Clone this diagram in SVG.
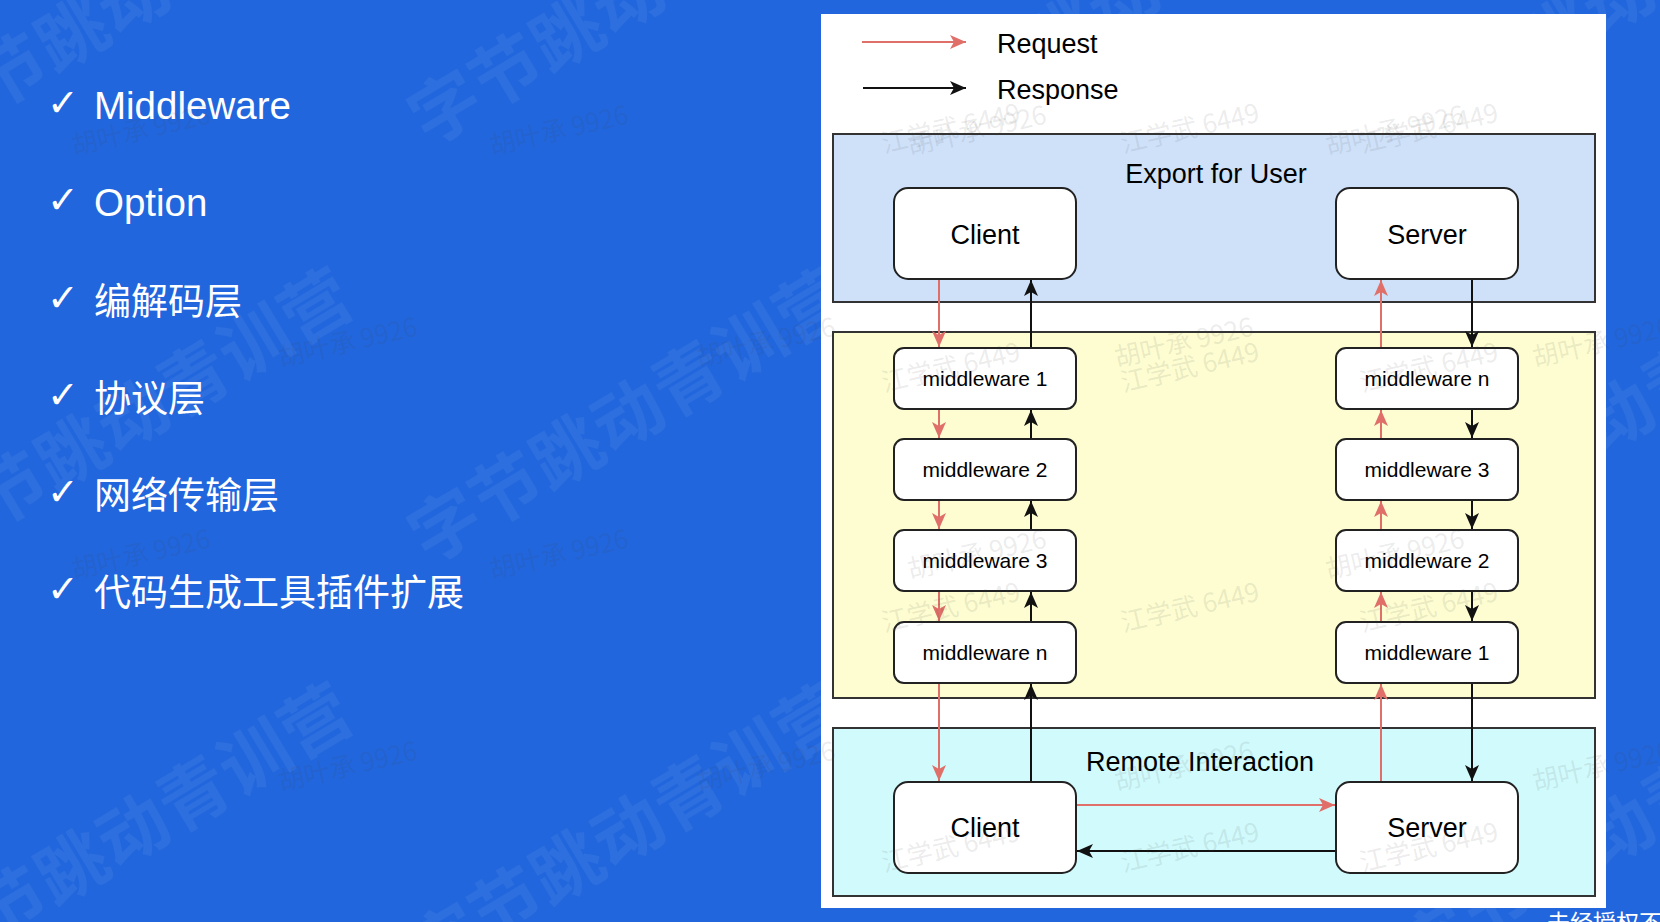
<svg xmlns="http://www.w3.org/2000/svg" width="1660" height="922" viewBox="0 0 1660 922">
<defs>
<style>
.wm{font-family:"Noto Sans CJK SC",sans-serif;font-size:70px;font-weight:700;fill:#ffffff;fill-opacity:0.06;letter-spacing:1px}
.li{fill:#ffffff}
.lat{font-family:"Liberation Sans","Noto Sans CJK SC",sans-serif;font-size:38.5px}
.cjk{font-family:"Noto Sans CJK SC",sans-serif;font-size:37px}
.chk{font-family:"DejaVu Sans",sans-serif;font-size:38px;font-weight:700;fill:#ffffff}
.cont{stroke:#333333;stroke-width:2}
.box{fill:#ffffff;stroke:#222222;stroke-width:2}
.t{font-family:"Liberation Sans",Arial,sans-serif;fill:#000000;text-anchor:middle}
.lg{font-family:"Liberation Sans",Arial,sans-serif;fill:#000000;font-size:27px}
.big{font-size:27px}
.mw{font-size:21px}
.req{fill:none;stroke:#e06f69;stroke-width:2;marker-end:url(#ar)}
.res{fill:none;stroke:#111111;stroke-width:2;marker-end:url(#ab)}
.sw{font-family:"Noto Sans CJK SC",sans-serif;font-size:26px;fill:#444444;fill-opacity:0.11}
.foot{font-family:"Noto Sans CJK SC",sans-serif;font-size:23px;fill:#ffffff}
</style>
<marker id="ar" viewBox="0 0 16 14" refX="16" refY="7" markerWidth="16" markerHeight="14" markerUnits="userSpaceOnUse" orient="auto"><path d="M0,0 L16,7 L0,14 L4,7 Z" fill="#e06f69"/></marker>
<marker id="ab" viewBox="0 0 16 14" refX="16" refY="7" markerWidth="16" markerHeight="14" markerUnits="userSpaceOnUse" orient="auto"><path d="M0,0 L16,7 L0,14 L4,7 Z" fill="#111111"/></marker>
<clipPath id="pc"><rect x="821" y="14" width="785" height="894"/></clipPath>
</defs>

<rect x="0" y="0" width="1660" height="922" fill="#2166dd"/>

<g id="watermark-large">
<text class="wm" transform="translate(-50,107) rotate(-31)" x="-35" y="26">字节跳动青训营</text>
<text class="wm" transform="translate(445,107) rotate(-31)" x="-35" y="26">字节跳动青训营</text>
<text class="wm" transform="translate(940,107) rotate(-31)" x="-35" y="26">字节跳动青训营</text>
<text class="wm" transform="translate(1435,107) rotate(-31)" x="-35" y="26">字节跳动青训营</text>
<text class="wm" transform="translate(-50,525) rotate(-31)" x="-35" y="26">字节跳动青训营</text>
<text class="wm" transform="translate(445,525) rotate(-31)" x="-35" y="26">字节跳动青训营</text>
<text class="wm" transform="translate(1435,525) rotate(-31)" x="-35" y="26">字节跳动青训营</text>
<text class="wm" transform="translate(-50,940) rotate(-31)" x="-35" y="26">字节跳动青训营</text>
<text class="wm" transform="translate(445,940) rotate(-31)" x="-35" y="26">字节跳动青训营</text>
<text class="wm" transform="translate(1435,940) rotate(-31)" x="-35" y="26">字节跳动青训营</text>
</g>

<g id="list">
<text class="chk" x="47" y="116">✓</text><text class="li lat" x="94" y="119">Middleware</text>
<text class="chk" x="47" y="213">✓</text><text class="li lat" x="94" y="216">Option</text>
<text class="chk" x="47" y="311">✓</text><text class="li cjk" x="94" y="315">编解码层</text>
<text class="chk" x="47" y="408">✓</text><text class="li cjk" x="94" y="412">协议层</text>
<text class="chk" x="47" y="505">✓</text><text class="li cjk" x="94" y="509">网络传输层</text>
<text class="chk" x="47" y="602">✓</text><text class="li cjk" x="94" y="606">代码生成工具插件扩展</text>
</g>

<rect id="panel" x="821" y="14" width="785" height="894" fill="#ffffff"/>

<g id="legend">
<text class="lg" x="997" y="53">Request</text>
<text class="lg" x="997" y="99">Response</text>
</g>

<g id="export-for-user">
<rect class="cont" x="833" y="134" width="762" height="168" fill="#cee1f9"/>
<text class="t big" x="1216" y="183">Export for User</text>
</g>
<g id="middleware-layer">
<rect class="cont" x="833" y="332" width="762" height="366" fill="#fdfdd1"/>
</g>
<g id="remote-interaction">
<rect class="cont" x="833" y="728" width="762" height="168" fill="#d1fafc"/>
<text class="t big" x="1200" y="771">Remote Interaction</text>
</g>

<g id="client-user"><rect class="box" x="894" y="188" width="182" height="91" rx="14"/><text class="t big" x="985" y="244">Client</text></g>
<g id="server-user"><rect class="box" x="1336" y="188" width="182" height="91" rx="14"/><text class="t big" x="1427" y="244">Server</text></g>

<g id="c-mw1"><rect class="box" x="894" y="348" width="182" height="61" rx="10"/><text class="t mw" x="985" y="386">middleware 1</text></g>
<g id="c-mw2"><rect class="box" x="894" y="439" width="182" height="61" rx="10"/><text class="t mw" x="985" y="477">middleware 2</text></g>
<g id="c-mw3"><rect class="box" x="894" y="530" width="182" height="61" rx="10"/><text class="t mw" x="985" y="568">middleware 3</text></g>
<g id="c-mwn"><rect class="box" x="894" y="622" width="182" height="61" rx="10"/><text class="t mw" x="985" y="660">middleware n</text></g>

<g id="s-mwn"><rect class="box" x="1336" y="348" width="182" height="61" rx="10"/><text class="t mw" x="1427" y="386">middleware n</text></g>
<g id="s-mw3"><rect class="box" x="1336" y="439" width="182" height="61" rx="10"/><text class="t mw" x="1427" y="477">middleware 3</text></g>
<g id="s-mw2"><rect class="box" x="1336" y="530" width="182" height="61" rx="10"/><text class="t mw" x="1427" y="568">middleware 2</text></g>
<g id="s-mw1"><rect class="box" x="1336" y="622" width="182" height="61" rx="10"/><text class="t mw" x="1427" y="660">middleware 1</text></g>

<g id="client-remote"><rect class="box" x="894" y="782" width="182" height="91" rx="14"/><text class="t big" x="985" y="837">Client</text></g>
<g id="server-remote"><rect class="box" x="1336" y="782" width="182" height="91" rx="14"/><text class="t big" x="1427" y="837">Server</text></g>

<g id="connectors">
<path class="req" d="M862,42 H966"/>
<path class="res" d="M863,88 H966"/>

<path class="req" d="M939,280 V347"/>
<path class="req" d="M939,410 V438"/>
<path class="req" d="M939,501 V529"/>
<path class="req" d="M939,592 V621"/>
<path class="req" d="M939,684 V781"/>

<path class="res" d="M1031,347 V280"/>
<path class="res" d="M1031,438 V410"/>
<path class="res" d="M1031,529 V501"/>
<path class="res" d="M1031,621 V592"/>
<path class="res" d="M1031,781 V684"/>

<path class="req" d="M1381,347 V280"/>
<path class="req" d="M1381,438 V410"/>
<path class="req" d="M1381,529 V501"/>
<path class="req" d="M1381,621 V592"/>
<path class="req" d="M1381,781 V684"/>

<path class="res" d="M1472,280 V347"/>
<path class="res" d="M1472,410 V438"/>
<path class="res" d="M1472,501 V529"/>
<path class="res" d="M1472,592 V621"/>
<path class="res" d="M1472,684 V781"/>

<path class="req" d="M1077,805 H1335"/>
<path class="res" d="M1335,851 H1077"/>
</g>

<g id="watermark-names-panel" clip-path="url(#pc)">
<text class="sw" transform="translate(884,153) rotate(-13)">江学武 6449</text>
<text class="sw" transform="translate(1123,153) rotate(-13)">江学武 6449</text>
<text class="sw" transform="translate(1362,153) rotate(-13)">江学武 6449</text>
<text class="sw" transform="translate(884,392) rotate(-13)">江学武 6449</text>
<text class="sw" transform="translate(1123,392) rotate(-13)">江学武 6449</text>
<text class="sw" transform="translate(1362,392) rotate(-13)">江学武 6449</text>
<text class="sw" transform="translate(884,632) rotate(-13)">江学武 6449</text>
<text class="sw" transform="translate(1123,632) rotate(-13)">江学武 6449</text>
<text class="sw" transform="translate(1362,632) rotate(-13)">江学武 6449</text>
<text class="sw" transform="translate(884,872) rotate(-13)">江学武 6449</text>
<text class="sw" transform="translate(1123,872) rotate(-13)">江学武 6449</text>
<text class="sw" transform="translate(1362,872) rotate(-13)">江学武 6449</text>
</g>

<g id="watermark-names">
<text class="sw" transform="translate(74,155) rotate(-13)">胡叶承 9926</text>
<text class="sw" transform="translate(492,155) rotate(-13)">胡叶承 9926</text>
<text class="sw" transform="translate(910,155) rotate(-13)">胡叶承 9926</text>
<text class="sw" transform="translate(1328,155) rotate(-13)">胡叶承 9926</text>
<text class="sw" transform="translate(281,367) rotate(-13)">胡叶承 9926</text>
<text class="sw" transform="translate(699,367) rotate(-13)">胡叶承 9926</text>
<text class="sw" transform="translate(1117,367) rotate(-13)">胡叶承 9926</text>
<text class="sw" transform="translate(1535,367) rotate(-13)">胡叶承 9926</text>
<text class="sw" transform="translate(74,579) rotate(-13)">胡叶承 9926</text>
<text class="sw" transform="translate(492,579) rotate(-13)">胡叶承 9926</text>
<text class="sw" transform="translate(910,579) rotate(-13)">胡叶承 9926</text>
<text class="sw" transform="translate(1328,579) rotate(-13)">胡叶承 9926</text>
<text class="sw" transform="translate(281,791) rotate(-13)">胡叶承 9926</text>
<text class="sw" transform="translate(699,791) rotate(-13)">胡叶承 9926</text>
<text class="sw" transform="translate(1117,791) rotate(-13)">胡叶承 9926</text>
<text class="sw" transform="translate(1535,791) rotate(-13)">胡叶承 9926</text>
</g>

<text class="foot" x="1547" y="931">未经授权不</text>
</svg>
